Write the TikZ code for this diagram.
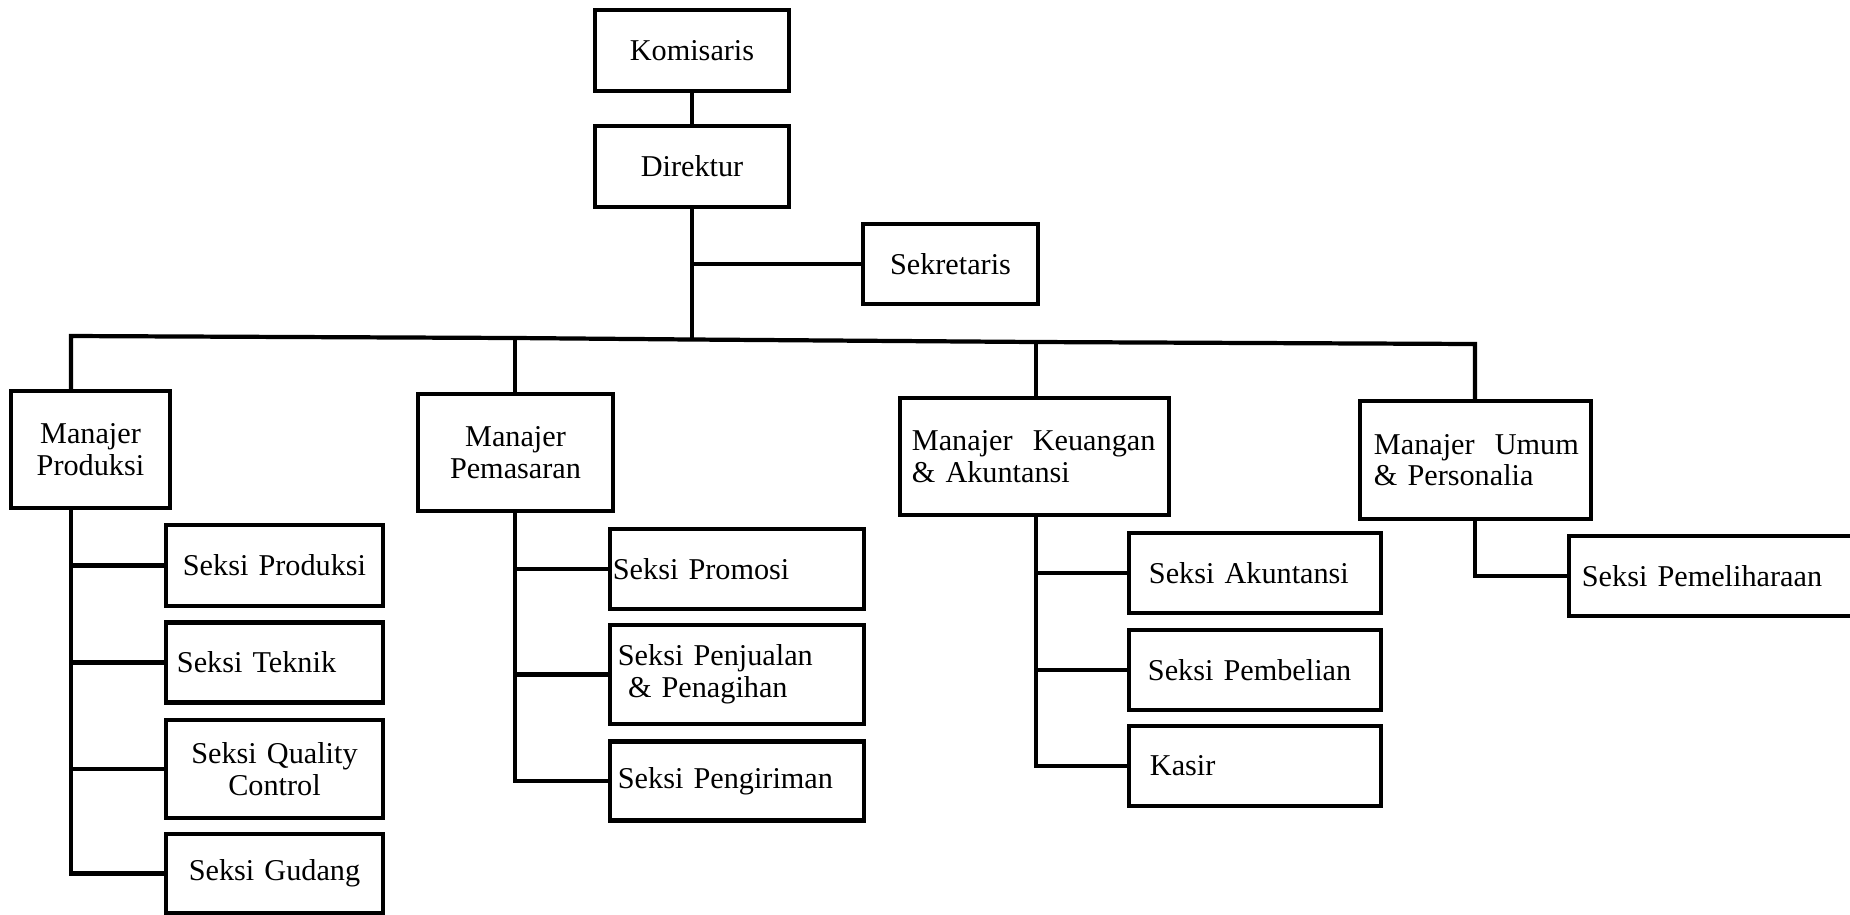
\documentclass[tikz,border=0pt]{standalone}
\usepackage{fontspec}
\setmainfont{Liberation Serif}
\usetikzlibrary{calc}

\begin{document}
\begin{tikzpicture}[x=0.01cm, y=-0.01cm, line width=1.2pt, line join=miter,
  kotak/.style={draw, inner xsep=0pt, inner ysep=0pt, font=\fontsize{8.6}{9.0}\selectfont}]
\useasboundingbox (0,0) rectangle (1850,914);
% pimpinan
\node[kotak, text width=1.94cm, minimum height=0.81cm, align=center] (kom) at (692,50.5) {Komisaris};
\node[kotak, text width=1.94cm, minimum height=0.81cm, align=center] (dir) at (692,166.5) {Direktur};
\node[kotak, text width=1.75cm, minimum height=0.80cm, align=center] (sek) at (950.5,264) {Sekretaris};
% manajer
\node[kotak, text width=1.59cm, minimum height=1.17cm, align=center] (mprod) at (90.5,449.5) {Manajer\\Produksi};
\node[kotak, text width=1.95cm, minimum height=1.17cm, align=center] (mpem) at (515.5,452.5) {Manajer\\Pemasaran};
\node[kotak, inner xsep=0.12cm, text width=2.45cm, minimum height=1.17cm, align=left] (mkeu) at (1034.5,456.5) {Manajer\ \ Keuangan\\\& Akuntansi};
\node[kotak, inner xsep=0.06cm, text width=2.19cm, minimum height=1.18cm, align=left] (mum) at (1475.5,460) {\hspace{0.08cm}Manajer\ \ Umum\\\hspace{0.08cm}\& Personalia};
% seksi produksi
\node[kotak, text width=2.17cm, minimum height=0.81cm, align=center] (sprod) at (274.5,565.5) {Seksi Produksi};
\node[kotak, inner xsep=0.11cm, text width=1.95cm, minimum height=0.80cm, align=left] (stek) at (274.5,662.5) {Seksi Teknik};
\node[kotak, text width=2.17cm, minimum height=0.98cm, align=center] (sqc) at (274.5,769) {Seksi Quality\\Control};
\node[kotak, text width=2.17cm, minimum height=0.79cm, align=center] (sgud) at (274.5,873.5) {Seksi Gudang};
% seksi pemasaran
\node[kotak, inner xsep=0.03cm, text width=2.48cm, minimum height=0.80cm, align=left] (sprom) at (737,569) {Seksi Promosi};
\node[kotak, inner xsep=0.08cm, text width=2.38cm, minimum height=0.99cm, align=left] (spenj) at (737,674.5) {Seksi Penjualan\\\ \& Penagihan};
\node[kotak, inner xsep=0.08cm, text width=2.38cm, minimum height=0.79cm, align=left] (speng) at (737,781) {Seksi Pengiriman};
% seksi keuangan
\node[kotak, inner xsep=0.20cm, text width=2.12cm, minimum height=0.80cm, align=left] (sakun) at (1255,573) {Seksi Akuntansi};
\node[kotak, inner xsep=0.19cm, text width=2.14cm, minimum height=0.80cm, align=left] (spemb) at (1255,670) {Seksi Pembelian};
\node[kotak, inner xsep=0.21cm, text width=2.10cm, minimum height=0.80cm, align=left] (kasir) at (1255,766) {Kasir};
% seksi umum
\node[kotak, inner xsep=0.13cm, text width=2.64cm, minimum height=0.80cm, align=left] (spem) at (1714,576) {Seksi Pemeliharaan};

% garis
\coordinate (bprod) at (71,336);
\coordinate (bpem) at (515,338);
\coordinate (bdir) at (692,339.5);
\coordinate (bkeu) at (1036,342);
\coordinate (bum) at (1475,344);
\draw (kom) -- (dir);
\draw (dir) -- (bdir);
\draw (sek.west) -- (sek.west -| dir.south);
\draw (bprod |- mprod.north) -- (bprod) -- (bpem) -- (bdir) -- (bkeu) -- (bum) -- (bum |- mum.north);
\draw (bpem) -- (bpem |- mpem.north);
\draw (bkeu) -- (bkeu |- mkeu.north);
% cabang
\draw (bprod |- mprod.south) -- (bprod |- sgud.west) -- (sgud.west);
\foreach \s in {sprod,stek,sqc} \draw (bprod |- \s.west) -- (\s.west);
\draw (bpem |- mpem.south) -- (bpem |- speng.west) -- (speng.west);
\foreach \s in {sprom,spenj} \draw (bpem |- \s.west) -- (\s.west);
\draw (bkeu |- mkeu.south) -- (bkeu |- kasir.west) -- (kasir.west);
\foreach \s in {sakun,spemb} \draw (bkeu |- \s.west) -- (\s.west);
\draw (bum |- mum.south) -- (bum |- spem.west) -- (spem.west);
\end{tikzpicture}
\end{document}
